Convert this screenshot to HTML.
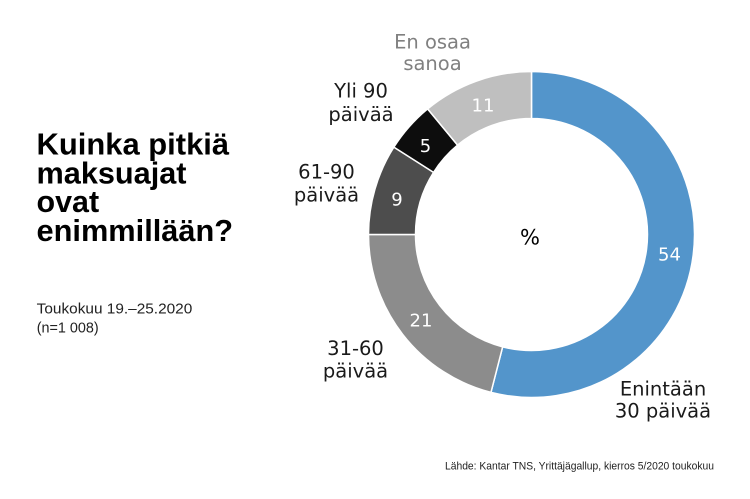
<!DOCTYPE html>
<html>
<head>
<meta charset="utf-8">
<style>
  html, body { margin:0; padding:0; background:#ffffff; }
  svg { display:block; }
  .lab { font-family:"DejaVu Sans", "Liberation Sans", sans-serif; font-size:19.5px; fill:#1a1a1a; text-anchor:middle; }
  .val { font-family:"DejaVu Sans", "Liberation Sans", sans-serif; font-size:18px; fill:#ffffff; text-anchor:middle; }
  .title { font-family:"Liberation Sans", sans-serif; font-weight:bold; font-size:31px; fill:#000; }
  .sub { font-family:"Liberation Sans", sans-serif; font-size:14.5px; fill:#222; }
  .foot { font-family:"Liberation Sans", sans-serif; font-size:11px; fill:#222; }
</style>
</head>
<body>
<svg width="750" height="499" viewBox="0 0 750 499" xmlns="http://www.w3.org/2000/svg">
  <rect width="750" height="499" fill="#ffffff"/>

  <!-- donut -->
  <g stroke="#ffffff" stroke-width="1.5" stroke-linejoin="miter">
    <path d="M531.5,71.5 A163,163 0 1 1 490.96,392.38 L502.65,346.86 A116,116 0 1 0 531.5,118.5 Z" fill="#5395cb"/>
    <path d="M490.96,392.38 A163,163 0 0 1 368.5,234.5 L415.5,234.5 A116,116 0 0 0 502.65,346.86 Z" fill="#8c8c8c"/>
    <path d="M368.5,234.5 A163,163 0 0 1 393.87,147.16 L433.56,172.34 A116,116 0 0 0 415.5,234.5 Z" fill="#4d4d4d"/>
    <path d="M393.87,147.16 A163,163 0 0 1 427.6,108.91 L457.56,145.12 A116,116 0 0 0 433.56,172.34 Z" fill="#0d0d0d"/>
    <path d="M427.6,108.91 A163,163 0 0 1 531.5,71.5 L531.5,118.5 A116,116 0 0 0 457.56,145.12 Z" fill="#bfbfbf"/>
  </g>

  <!-- values -->
  <text class="val" x="669.5" y="260.5">54</text>
  <text class="val" x="421" y="326.5">21</text>
  <text class="val" x="397" y="205.5">9</text>
  <text class="val" x="425.5" y="152">5</text>
  <text class="val" x="483" y="111.5">11</text>
  <text x="530" y="244.5" style="font-family:'DejaVu Sans','Liberation Sans',sans-serif;font-size:21px;fill:#000;text-anchor:middle;">%</text>

  <!-- category labels -->
  <text class="lab" x="432.5" y="48.5" style="fill:#808080">En osaa</text>
  <text class="lab" x="432.5" y="70" style="fill:#808080">sanoa</text>

  <text class="lab" x="361" y="97.5">Yli 90</text>
  <text class="lab" x="361" y="121">päivää</text>

  <text class="lab" x="326.5" y="178.5">61-90</text>
  <text class="lab" x="326.5" y="201.5">päivää</text>

  <text class="lab" x="355.5" y="355">31-60</text>
  <text class="lab" x="355.5" y="377.5">päivää</text>

  <text class="lab" x="663" y="395.5">Enintään</text>
  <text class="lab" x="663" y="417.5">30 päivää</text>

  <!-- title -->
  <text class="title" x="36.5" y="154.3" textLength="192.6" lengthAdjust="spacingAndGlyphs">Kuinka pitkiä</text>
  <text class="title" x="36.5" y="183.3" textLength="150" lengthAdjust="spacingAndGlyphs">maksuajat</text>
  <text class="title" x="36.5" y="212.2" textLength="62.6" lengthAdjust="spacingAndGlyphs">ovat</text>
  <text class="title" x="36.5" y="241" textLength="196.6" lengthAdjust="spacingAndGlyphs">enimmillään?</text>

  <!-- subtitle -->
  <text class="sub" x="36.7" y="313.3" textLength="155.6" lengthAdjust="spacingAndGlyphs">Toukokuu 19.–25.2020</text>
  <text class="sub" x="36.7" y="332.5" textLength="62" lengthAdjust="spacingAndGlyphs">(n=1 008)</text>

  <!-- footnote -->
  <text class="foot" x="445" y="469.3" textLength="269" lengthAdjust="spacingAndGlyphs">Lähde: Kantar TNS, Yrittäjägallup, kierros 5/2020 toukokuu</text>
</svg>
</body>
</html>
